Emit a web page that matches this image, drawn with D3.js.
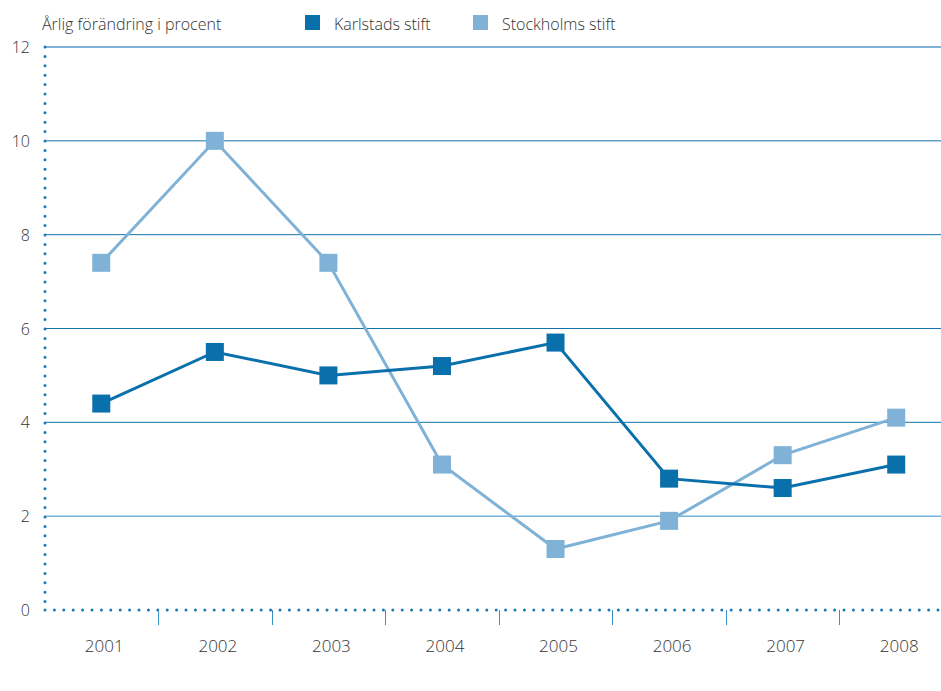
<!DOCTYPE html>
<html>
<head>
<meta charset="utf-8">
<script src="https://cdn.jsdelivr.net/npm/d3@7"></script>
<style>
  body { margin: 0; background: #fff; }
  text { font-family: "Open Sans", sans-serif; font-weight: 300; fill: #333; }
</style>
</head>
<body>
<svg id="chart" width="941" height="691"></svg>
<script>
// data
var years = ["2001", "2002", "2003", "2004", "2005", "2006", "2007", "2008"];
var karlstad = [4.4, 5.5, 5.0, 5.2, 5.7, 2.8, 2.6, 3.1];
var stockholm = [7.4, 10.0, 7.4, 3.1, 1.3, 1.9, 3.3, 4.1];
var yTicks = [0, 2, 4, 6, 8, 10, 12];

var dark = "#0a70ab";
var light = "#7fb2d6";

var svg = d3.select("#chart");
var plotLeft = 45, plotRight = 941, plotTop = 47, plotBottom = 610;

// bands run a bit past the right edge, as in the original
var x = d3.scaleBand().domain(years).range([44.5, 953]);
var y = d3.scaleLinear().domain([0, 12]).range([plotBottom, plotTop]);

// grid lines
svg.selectAll(".grid")
    .data(yTicks.filter(function (d) { return d > 0; }))
    .enter().append("line")
    .attr("x1", plotLeft).attr("x2", plotRight)
    .attr("y1", function (d) { return y(d); })
    .attr("y2", function (d) { return y(d); })
    .attr("stroke", function (d) { return d === 12 ? light : (d === 2 ? "#2f8fc8" : "#1672aa"); })
    .attr("stroke-width", function (d) { return d === 12 ? 2 : 1; });

// y labels
svg.selectAll(".ylab")
    .data(yTicks)
    .enter().append("text")
    .attr("x", 30)
    .attr("y", function (d) { return y(d) + 6; })
    .attr("text-anchor", "end")
    .style("font-size", "16px")
    .text(function (d) { return d; });

// dotted axes
svg.append("line")
    .attr("x1", plotLeft).attr("x2", plotLeft).attr("y1", plotTop).attr("y2", plotBottom)
    .attr("stroke", "#1a78b3").attr("stroke-width", 3)
    .attr("stroke-linecap", "round").attr("stroke-dasharray", "0,9.4");
svg.append("line")
    .attr("x1", plotLeft).attr("x2", plotRight).attr("y1", plotBottom).attr("y2", plotBottom)
    .attr("stroke", "#1a78b3").attr("stroke-width", 3)
    .attr("stroke-linecap", "round").attr("stroke-dasharray", "0,9.4");

// x ticks between bands
svg.selectAll(".xtick")
    .data(years.slice(1))
    .enter().append("line")
    .attr("x1", function (d) { return Math.round(x(d)) + 0.5; })
    .attr("x2", function (d) { return Math.round(x(d)) + 0.5; })
    .attr("y1", plotBottom).attr("y2", plotBottom + 15)
    .attr("stroke", "#3a8fc4").attr("stroke-width", 1);

svg.selectAll(".xlab")
    .data(years)
    .enter().append("text")
    .attr("x", function (d) { return x(d) + x.bandwidth() / 2 + 3; })
    .attr("y", 652)
    .attr("text-anchor", "middle")
    .style("font-size", "17px")
    .text(function (d) { return d; });

// series
var series = [
    { name: "Karlstads stift", values: karlstad, color: dark },
    { name: "Stockholms stift", values: stockholm, color: light }
];

var line = d3.line()
    .x(function (d, i) { return x(years[i]) + x.bandwidth() / 2; })
    .y(function (d) { return y(d); });

// draw stockholm first, karlstad on top
series.slice().reverse().forEach(function (s) {
    svg.append("path")
        .attr("d", line(s.values))
        .attr("fill", "none")
        .attr("stroke", s.color)
        .attr("stroke-width", 3);
    svg.selectAll(null)
        .data(s.values)
        .enter().append("rect")
        .attr("x", function (d, i) { return x(years[i]) + x.bandwidth() / 2 - 9; })
        .attr("y", function (d) { return y(d) - 9; })
        .attr("width", 18).attr("height", 18)
        .attr("fill", s.color);
});

// title + legend
svg.append("text")
    .attr("x", 42).attr("y", 30)
    .style("font-size", "16px")
    .text("Årlig förändring i procent");

var legX = [305, 473];
series.forEach(function (s, i) {
    svg.append("rect")
        .attr("x", legX[i]).attr("y", 15)
        .attr("width", 15).attr("height", 15)
        .attr("fill", s.color);
    svg.append("text")
        .attr("x", legX[i] + 29).attr("y", 30)
        .style("font-size", "16px")
        .text(s.name);
});
</script>
</body>
</html>
